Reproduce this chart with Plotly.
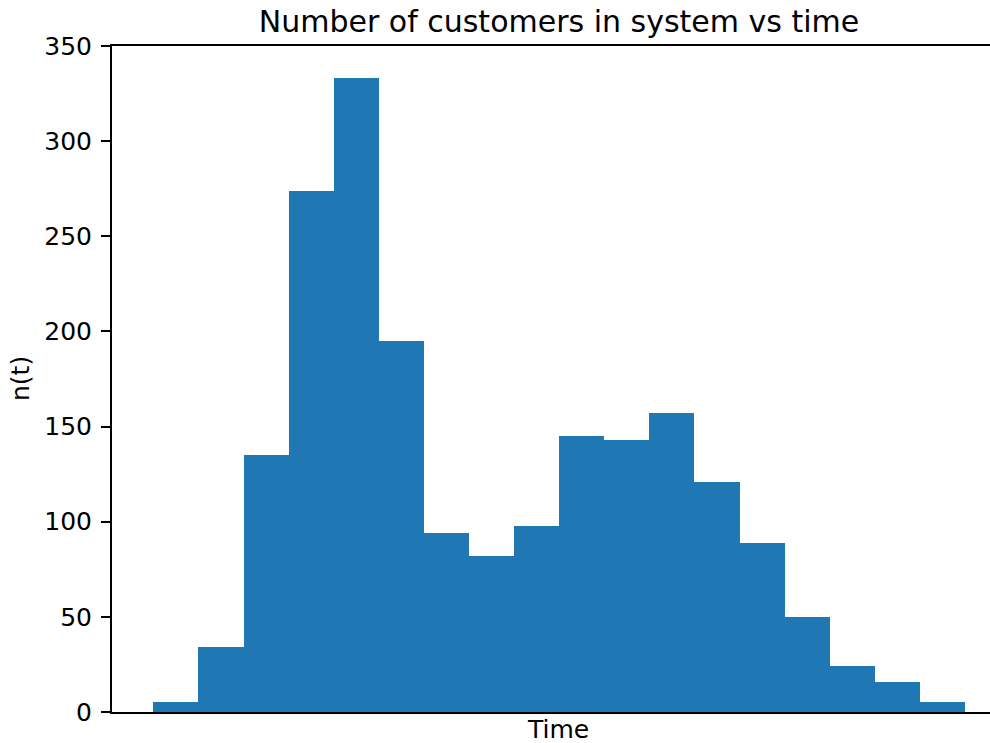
import plotly.graph_objects as go

# Histogram of the number of customers in the system over time (18 equal-width bins)
time_bins = list(range(18))
customers = [5, 34, 135, 274, 333, 195, 94, 82, 98, 145, 143, 157, 121, 89, 50, 24, 16, 5]

y_ticks = [0, 50, 100, 150, 200, 250, 300, 350]

FONT = "DejaVu Sans"
W, H = 990, 743
L, R, T, B = 112, 0, 46, 31

fig = go.Figure(
    go.Bar(
        x=time_bins,
        y=customers,
        width=1.0,
        marker=dict(color="#1f77b4", line=dict(width=0)),
        hoverinfo="x+y",
    )
)

fig.update_layout(
    width=W,
    height=H,
    margin=dict(l=L, r=R, t=T, b=B, pad=0),
    plot_bgcolor="white",
    paper_bgcolor="white",
    showlegend=False,
    bargap=0,
    font=dict(family=FONT, color="black", size=25),
    title=dict(
        text="Number of customers in system vs time",
        font=dict(family=FONT, size=30, color="black"),
        x=(112 + 1006) / 2 / W,
        xanchor="center",
        xref="container",
        yref="container",
        y=1 - 21 / H,
        yanchor="middle",
    ),
)

fig.update_xaxes(
    range=[-1.416, 18.054],
    showgrid=False,
    zeroline=False,
    showticklabels=False,
    ticks="",
    showline=True,
    linecolor="black",
    linewidth=2,
    mirror=True,
)

fig.update_yaxes(
    range=[0, 350],
    tickvals=y_ticks,
    ticktext=[str(v) for v in y_ticks],
    showgrid=False,
    zeroline=False,
    ticks="outside",
    ticklen=9,
    tickwidth=2,
    tickcolor="black",
    showline=True,
    linecolor="black",
    linewidth=2,
    ticklabelstandoff=4,
    tickfont=dict(family=FONT, size=25, color="black"),
)

# Axis labels
fig.add_annotation(
    text="Time",
    xref="paper", yref="paper",
    x=(558 - L) / (W - L - R), y=-(729 - 712) / (712 - 46),
    xanchor="center", yanchor="middle",
    showarrow=False,
    font=dict(family=FONT, size=25, color="black"),
)
fig.add_annotation(
    text="n(t)",
    xref="paper", yref="paper",
    x=-(L - 20) / (W - L - R), y=0.5,
    xanchor="center", yanchor="middle",
    textangle=-90,
    showarrow=False,
    font=dict(family=FONT, size=25, color="black"),
)

fig.write_html("out.html")
